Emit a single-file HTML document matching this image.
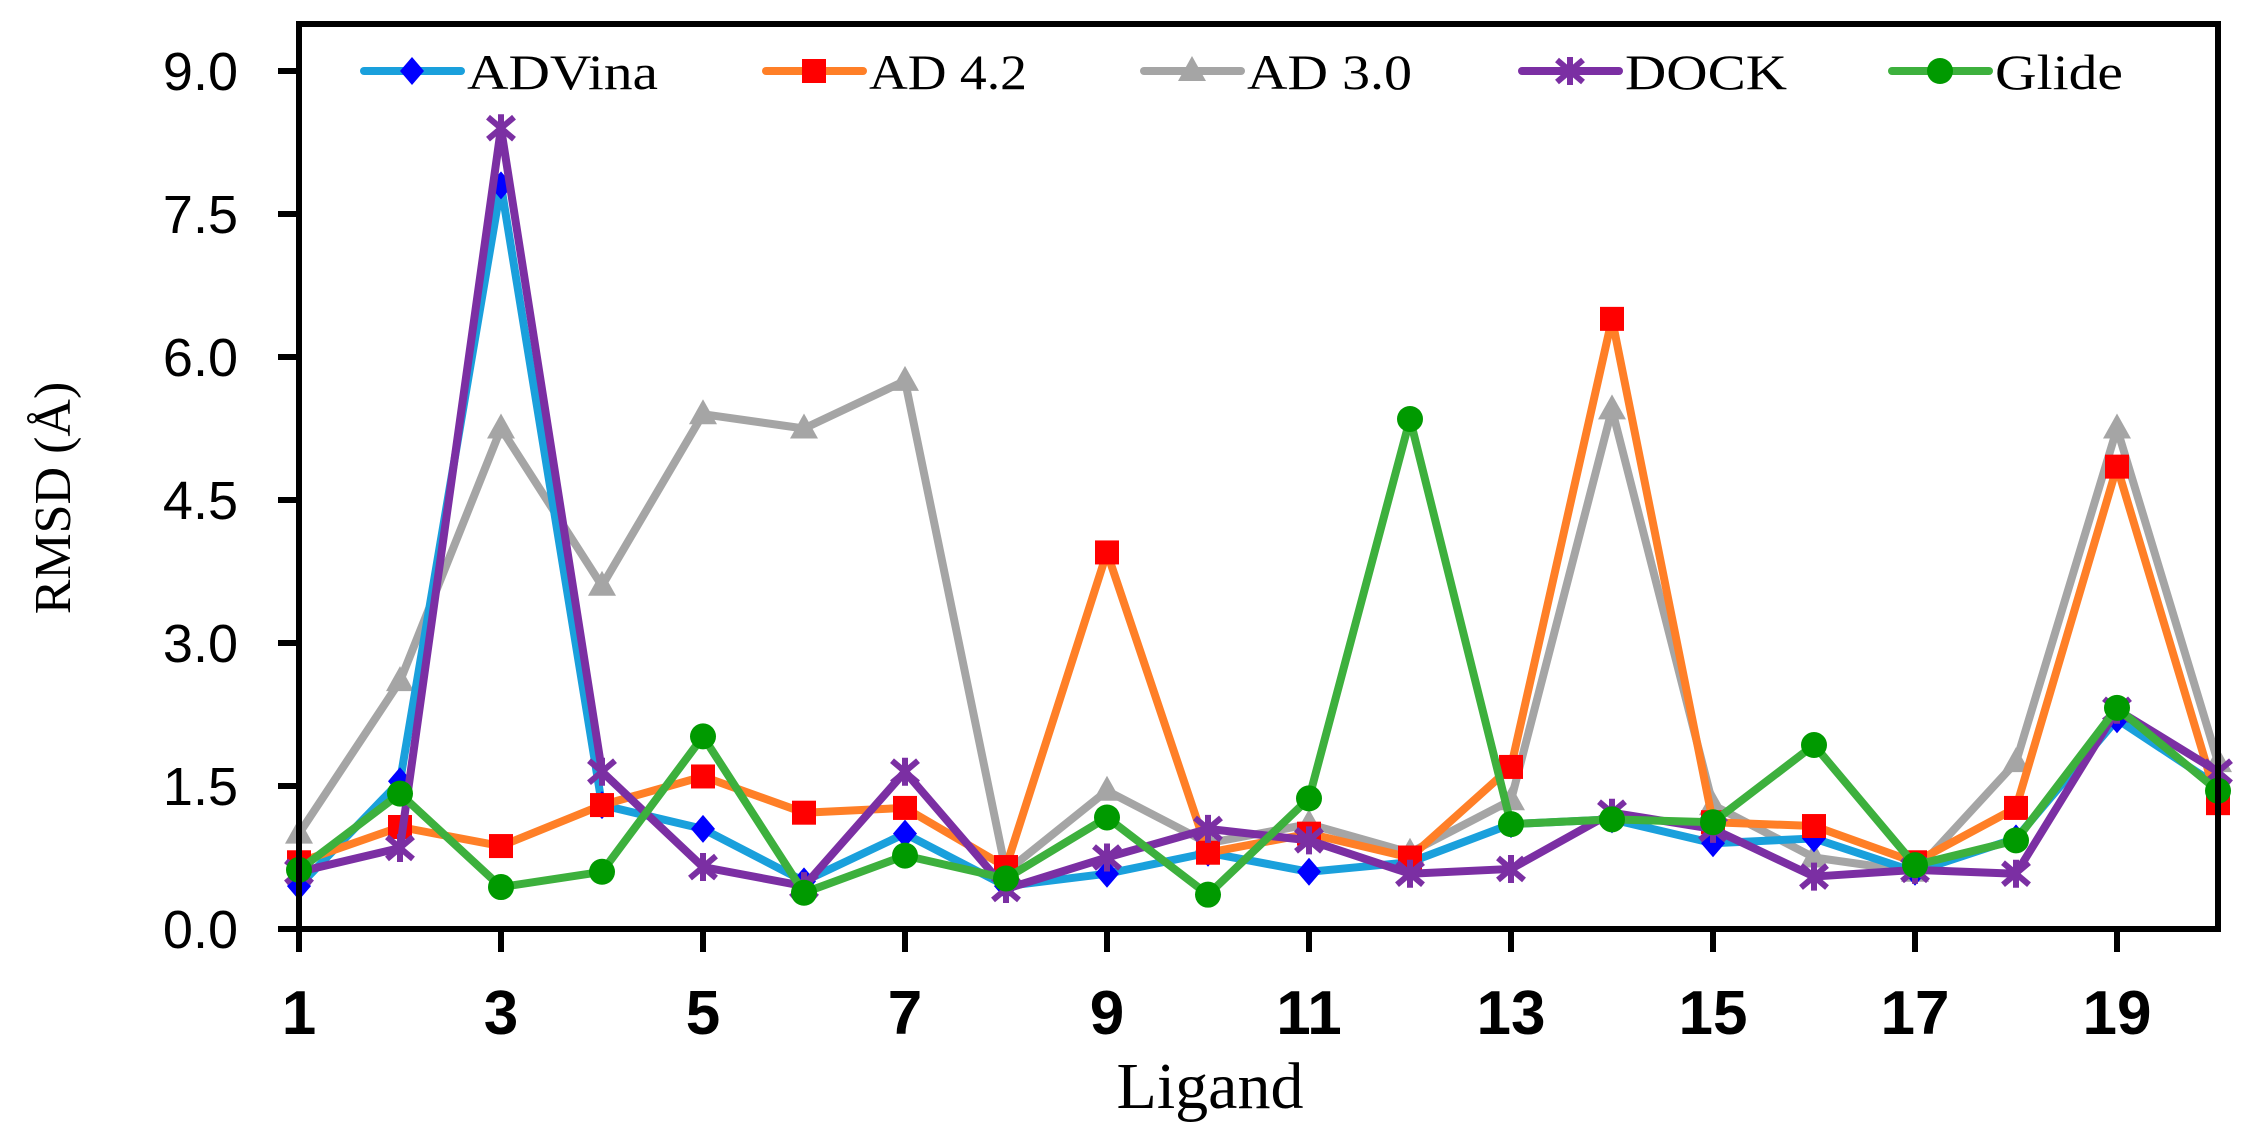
<!DOCTYPE html>
<html><head><meta charset="utf-8"><style>
html,body{margin:0;padding:0;background:#fff;}
svg{display:block;}
</style></head><body>
<svg id="chart" xmlns="http://www.w3.org/2000/svg" width="2252" height="1139" viewBox="0 0 2252 1139">
<rect x="0" y="0" width="2252" height="1139" fill="#fff"/>
<g id="plot"></g>
<rect x="299" y="24" width="1919" height="905" fill="none" stroke="#000" stroke-width="6"/>
<g id="axes"></g>
<text transform="translate(70,498) rotate(-90)" text-anchor="middle" font-family="Liberation Serif, serif" font-size="52">RMSD (Å)</text>
<text x="1210" y="1108" text-anchor="middle" font-family="Liberation Serif, serif" font-size="66">Ligand</text>
<g id="legend"></g>
</svg>
<script>
const ligands=[1,2,3,4,5,6,7,8,9,10,11,12,13,14,15,16,17,18,19,20];
const yTicks=[0,1.5,3,4.5,6,7.5,9];
const yTickLabels=["0.0","1.5","3.0","4.5","6.0","7.5","9.0"];
const xTickLabels=[1,3,5,7,9,11,13,15,17,19];
const adVina=[0.45,1.55,7.8,1.3,1.05,0.5,1.0,0.45,0.58,0.8,0.6,0.7,1.1,1.15,0.9,0.95,0.6,0.95,2.2,1.5];
const ad42=[0.7,1.07,0.87,1.3,1.6,1.22,1.27,0.65,3.95,0.8,1.0,0.75,1.7,6.4,1.12,1.08,0.7,1.27,4.85,1.32];
const ad30=[1.0,2.6,5.25,3.6,5.4,5.25,5.75,0.6,1.45,0.9,1.1,0.8,1.35,5.45,1.3,0.75,0.6,1.75,5.25,1.75];
const dock=[0.6,0.85,8.4,1.65,0.65,0.45,1.65,0.42,0.75,1.05,0.93,0.58,0.63,1.22,1.05,0.55,0.62,0.58,2.3,1.65];
const glide=[0.62,1.42,0.44,0.6,2.02,0.38,0.77,0.53,1.17,0.36,1.37,5.35,1.1,1.15,1.12,1.93,0.67,0.93,2.32,1.45];

const NS="http://www.w3.org/2000/svg";
function xs(i){return 299+(i-1)*101;}
function ys(v){return 929-v*(858/9);}
function mk(tag,attrs,parent){const e=document.createElementNS(NS,tag);for(const k in attrs)e.setAttribute(k,attrs[k]);parent.appendChild(e);return e;}
const plot=document.getElementById('plot'),axes=document.getElementById('axes'),legend=document.getElementById('legend');

function marker(type,cx,cy,color,parent,s){
  s=s||1;let e;
  if(type==='diamond'){e=mk('polygon',{points:`${cx},${cy-14*s} ${cx+12*s},${cy} ${cx},${cy+14*s} ${cx-12*s},${cy}`,fill:color},parent);}
  else if(type==='square'){e=mk('rect',{x:cx-12*s,y:cy-12*s,width:24*s,height:24*s,fill:color},parent);}
  else if(type==='triangle'){e=mk('polygon',{points:`${cx},${cy-15*s} ${cx+14*s},${cy+10*s} ${cx-14*s},${cy+10*s}`,fill:color},parent);}
  else if(type==='star'){e=mk('path',{d:`M${cx-13*s},${cy-11*s}L${cx+13*s},${cy+11*s}M${cx+13*s},${cy-11*s}L${cx-13*s},${cy+11*s}M${cx},${cy-14*s}L${cx},${cy+14*s}`,stroke:color,'stroke-width':6,fill:'none'},parent);}
  else {e=mk('circle',{cx:cx,cy:cy,r:13*s,fill:color},parent);}
  return e;
}
const series=[
 {name:'AD 3.0',data:ad30,line:'#a5a5a5',mc:'#a5a5a5',m:'triangle',key:'ad30'},
 {name:'ADVina',data:adVina,line:'#1aa0dc',mc:'#0000ff',m:'diamond',key:'advina'},
 {name:'AD 4.2',data:ad42,line:'#ff7f27',mc:'#ff0000',m:'square',key:'ad42'},
 {name:'DOCK',data:dock,line:'#7b2fa3',mc:'#7b2fa3',m:'star',key:'dock'},
 {name:'Glide',data:glide,line:'#3db03d',mc:'#009a00',m:'circle',key:'glide'}
];
series.forEach(s=>{
  const g=mk('g',{},plot);
  
  
  const pts=s.data.map((v,i)=>xs(ligands[i])+','+ys(v)).join(' ');
  const pl=mk('polyline',{points:pts,fill:'none',stroke:s.line,'stroke-width':8,'stroke-linejoin':'round'},g);
  
  
  s.data.forEach((v,i)=>{
    const e=marker(s.m,xs(ligands[i]),ys(v),s.mc,g);
    
    
  });
});
yTicks.forEach((v,i)=>{
  const t=mk('line',{x1:278,x2:299,y1:ys(v),y2:ys(v),stroke:'#000','stroke-width':6},axes);
  
  
  const l=mk('text',{x:238,y:ys(v)+19,'text-anchor':'end','font-family':'Liberation Sans, sans-serif','font-size':54},axes);
  l.textContent=yTickLabels[i];
  
  
});
xTickLabels.forEach(v=>{
  const t=mk('line',{x1:xs(v),x2:xs(v),y1:929,y2:952,stroke:'#000','stroke-width':6},axes);
  
  
  const l=mk('text',{x:xs(v),y:1034,'text-anchor':'middle','font-family':'Liberation Sans, sans-serif','font-size':62,'font-weight':'bold'},axes);
  l.textContent=v;
  
  
});
const legOrder=['advina','ad42','ad30','dock','glide'];
const legX=[364,766,1144,1522,1892];
const legW=[191,158,165,162,128];
legOrder.forEach((k,i)=>{
  const s=series.find(q=>q.key===k);
  const g=mk('g',{},legend);
  
  
  const x=legX[i],y=71;
  mk('line',{x1:x,x2:x+97,y1:y,y2:y,stroke:s.line,'stroke-width':8,'stroke-linecap':'round'},g);
  marker(s.m,x+48,y,s.mc,g);
  const t=mk('text',{x:x+103,y:y+18,'font-family':'Liberation Serif, serif','font-size':50,textLength:legW[i],lengthAdjust:'spacingAndGlyphs'},g);
  t.textContent=s.name;
});
</script>
</body></html>
